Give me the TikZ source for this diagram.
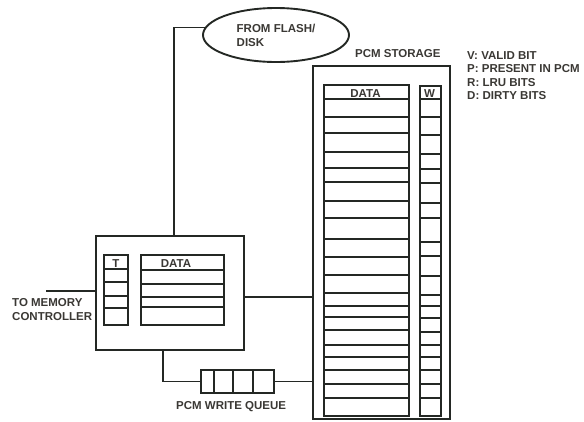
\documentclass[tikz,border=0pt]{standalone}
\usepackage{fontspec}
\setmainfont{Liberation Sans}
\usetikzlibrary{shapes.geometric}
\definecolor{ln}{RGB}{36,40,36}
\definecolor{tx}{RGB}{58,56,52}
\begin{document}
\begin{tikzpicture}[x=1pt,y=-1pt,
  box/.style={draw=ln, line width=1.9pt, rectangle, inner sep=0pt, anchor=north west},
  lbl/.style={text=tx, font=\bfseries\fontsize{11.5}{14}\selectfont, inner sep=0pt},
  wire/.style={draw=ln, line width=1.9pt}]
\useasboundingbox (0,0) rectangle (584,421);
% flash ellipse
\node[ellipse, minimum width=146pt, minimum height=54pt, inner sep=0pt,
      lbl, draw=ln, line width=1.9pt, align=left] (flash) at (276,35) {FROM FLASH/\\DISK};
% PCM storage
\node[box, minimum width=137pt, minimum height=353pt] (pcm) at (312,65) {};
\node[lbl, anchor=base west] (pcmlbl) at (355,57) {PCM STORAGE};
\node[box, minimum width=85pt, minimum height=331pt] (pdata) at (323,84) {};
\node[box, minimum width=21pt, minimum height=330pt] (pw) at (419,85) {};
\node[lbl, anchor=base] (pdatalbl) at (365.5,97) {DATA};
\node[lbl, anchor=base] (pwlbl) at (429.5,97) {W};
\foreach \y in {99,117,133,152,168,182,201,218,239,257,275,293,306,317,330,345,357,370,384,398}
  \draw[wire] (pdata.west |- 0,\y) -- (pdata.east |- 0,\y);
\foreach \y in {99,117,135,154,169,183,203,218,242,256,276,295,306,318,332,345,357,370,384,398}
  \draw[wire] (pw.west |- 0,\y) -- (pw.east |- 0,\y);
% legend
\node[lbl, anchor=base west] (lv) at (467,59) {V: VALID BIT};
\node[lbl, anchor=base west] (lp) at (467,72.5) {P: PRESENT IN PCM};
\node[lbl, anchor=base west] (lr) at (467,86) {R: LRU BITS};
\node[lbl, anchor=base west] (ld) at (467,99.5) {D: DIRTY BITS};
% cache
\node[box, minimum width=148pt, minimum height=114pt] (cache) at (95,235) {};
\node[box, minimum width=24pt, minimum height=70pt] (ct) at (103,254) {};
\node[box, minimum width=83pt, minimum height=70pt] (cd) at (140,254) {};
\node[lbl, anchor=base] (ctlbl) at (116,267) {T};
\node[lbl, anchor=base] (cdlbl) at (176,267) {DATA};
\foreach \y in {269,282,296,308}
  \draw[wire] (ct.west |- 0,\y) -- (ct.east |- 0,\y);
\foreach \y in {270,284,297,307}
  \draw[wire] (cd.west |- 0,\y) -- (cd.east |- 0,\y);
% memory controller
\node[lbl, anchor=base west] (mc1) at (12,306) {TO MEMORY};
\node[lbl, anchor=base west] (mc2) at (12,320) {CONTROLLER};
\coordinate (mcend) at (46,291);
\draw[wire] (mcend) -- (mcend -| cache.west);
% queue
\node[box, minimum width=73pt, minimum height=23pt] (queue) at (200,369) {};
\foreach \x in {214,233,253}
  \draw[wire] (queue.north -| \x,0) -- (queue.south -| \x,0);
\node[lbl, anchor=base west] (qlbl) at (176,409) {PCM WRITE QUEUE};
% connectors
\coordinate (fx) at (174,0);
\draw[wire] (flash.174) -| (cache.north -| fx);
\coordinate (cy) at (0,297);
\draw[wire] (cache.east |- cy) -- (pcm.west |- cy);
\coordinate (qx) at (163,0);
\draw[wire] (cache.south -| qx) |- (queue.west);
\draw[wire] (queue.east) -- (pcm.west |- queue.east);
\end{tikzpicture}
\end{document}
